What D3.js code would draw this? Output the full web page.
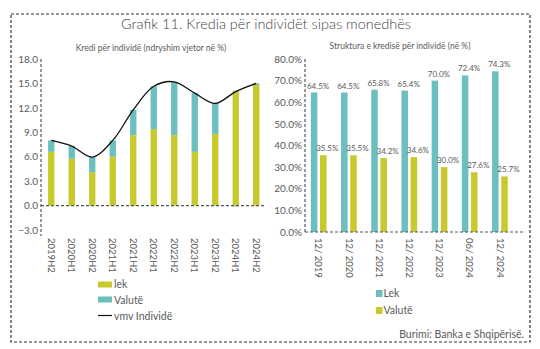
<!DOCTYPE html>
<html>
<head>
<meta charset="utf-8">
<script src="https://cdn.jsdelivr.net/npm/d3@7"></script>
<style>
  body { margin: 0; background: #fff; }
  svg text { font-family: Lato, "Open Sans", sans-serif; fill: #5a5a5a; }
</style>
</head>
<body>
<div id="vis-container"></div>
<script>
// Left panel: half-yearly change in loans to individuals, by currency
const periods = ["2019H2", "2020H1", "2020H2", "2021H1", "2021H2", "2022H1",
                 "2022H2", "2023H1", "2023H2", "2024H1", "2024H2"];
const lekChange = [6.6, 5.75, 4.1, 6.0, 8.65, 9.4, 8.65, 6.6, 8.8, 14.1, 14.8];
const valuteChange = [1.4, 1.55, 1.85, 2.0, 3.1, 5.25, 6.55, 7.2, 3.75, -0.1, 0.2];
const totalChange = [8.0, 7.3, 5.95, 8.0, 11.75, 14.65, 15.2, 13.8, 12.55, 14.0, 15.0];
const leftTicks = [-3, 0, 3, 6, 9, 12, 15, 18];

// Right panel: currency structure of the loan stock
const dates = ["12/2019", "12/2020", "12/2021", "12/2022", "12/2023", "06/2024", "12/2024"];
const lekShare = [64.5, 64.5, 65.8, 65.4, 70.0, 72.4, 74.3];
const valuteShare = [35.5, 35.5, 34.2, 34.6, 30.0, 27.6, 25.7];
const rightTicks = [0, 10, 20, 30, 40, 50, 60, 70, 80];

const yellow = "#c8c92c", teal = "#6cbfbf", grey = "#555";

const svg = d3.select("#vis-container")
  .append("svg")
    .attr("width", 540)
    .attr("height", 349);

// dashed frame
svg.append("rect")
  .attr("x", 11).attr("y", 14)
  .attr("width", 519).attr("height", 328)
  .attr("fill", "none")
  .attr("stroke", "#333")
  .attr("stroke-width", 1.2)
  .attr("stroke-dasharray", "3,2");

svg.append("text")
  .attr("x", 266).attr("y", 29)
  .attr("text-anchor", "middle")
  .style("font-size", "14.5px")
  .style("font-weight", 300)
  .style("fill", "#444")
  .text("Grafik 11. Kredia për individët sipas monedhës");

// ---------- left chart ----------
const x = d3.scaleBand()
  .domain(periods)
  .range([41, 266.5]);

const y = d3.scaleLinear()
  .domain([-3, 18])
  .range([230, 59]);

svg.append("text")
  .attr("x", 151).attr("y", 51)
  .attr("text-anchor", "middle")
  .style("font-size", "8.5px")
  .text("Kredi për individë (ndryshim vjetor në %)");

const barW = x.bandwidth() * 0.31;
const cx = d => x(d) + x.bandwidth() / 2;

const left = svg.append("g");

left.selectAll(".lek")
  .data(periods)
  .join("rect")
    .attr("x", (d, i) => cx(d) - barW / 2)
    .attr("y", (d, i) => y(lekChange[i]))
    .attr("width", barW)
    .attr("height", (d, i) => y(0) - y(lekChange[i]))
    .attr("fill", yellow);

left.selectAll(".val")
  .data(periods)
  .join("rect")
    .attr("x", d => cx(d) - barW / 2)
    .attr("y", (d, i) => valuteChange[i] >= 0 ? y(lekChange[i] + valuteChange[i]) : y(0))
    .attr("width", barW)
    .attr("height", (d, i) => Math.abs(y(0) - y(valuteChange[i])))
    .attr("fill", teal);

left.append("path")
  .datum(totalChange)
  .attr("fill", "none")
  .attr("stroke", "#111")
  .attr("stroke-width", 1.3)
  .attr("d", d3.line()
    .x((d, i) => cx(periods[i]))
    .y(d => y(d))
    .curve(d3.curveCatmullRom));

// zero line
left.append("line")
  .attr("x1", 41).attr("x2", 266)
  .attr("y1", y(0)).attr("y2", y(0))
  .attr("stroke", grey).attr("stroke-width", 1.2)
  .attr("stroke-dasharray", "3,2");

const yAxisL = left.append("g")
  .attr("transform", "translate(41,0)")
  .call(d3.axisLeft(y).tickValues(leftTicks).tickSize(0).tickPadding(3)
    .tickFormat(d3.format(".1f")));
yAxisL.select(".domain")
  .attr("d", `M0,${y(18)}V${y(-3) + 6}`)
  .attr("stroke", grey).attr("stroke-width", 1.2)
  .attr("stroke-dasharray", "3,2");
yAxisL.selectAll("text").style("font-size", "10px").style("font-family", null);

left.selectAll(".xl")
  .data(periods)
  .join("text")
    .attr("transform", d => `translate(${cx(d)},238) rotate(90)`)
    .attr("dy", "0.35em")
    .style("font-size", "9.5px")
    .text(d => d);

// legend
const legL = left.append("g").attr("transform", "translate(98,0)");
legL.append("rect").attr("x", 0).attr("y", 281.5).attr("width", 14).attr("height", 6).attr("fill", yellow);
legL.append("rect").attr("x", 0).attr("y", 296.5).attr("width", 14).attr("height", 6).attr("fill", teal);
legL.append("line").attr("x1", 0).attr("x2", 14).attr("y1", 315.5).attr("y2", 315.5)
  .attr("stroke", "#111").attr("stroke-width", 1.2);
legL.selectAll(".lt")
  .data(["lek", "Valutë", "vmv Individë"])
  .join("text")
    .attr("x", 16)
    .attr("y", (d, i) => 284.5 + i * 16)
    .attr("dy", "0.35em")
    .style("font-size", "10.5px")
    .text(d => d);

// ---------- right chart ----------
const x0 = d3.scaleBand()
  .domain(dates)
  .range([303.6, 515]);

const x1 = d3.scaleBand()
  .domain(["Lek", "Valutë"])
  .range([x0.bandwidth() / 2 - 7.85, x0.bandwidth() / 2 + 7.85])
  .paddingInner(0.29);

const y2 = d3.scaleLinear()
  .domain([0, 80])
  .range([232, 59]);

svg.append("text")
  .attr("x", 400).attr("y", 49)
  .attr("text-anchor", "middle")
  .style("font-size", "8.5px")
  .text("Struktura e kredisë për individë (në %)");

const right = svg.append("g");

const series = [
  { key: "Lek", values: lekShare, color: teal },
  { key: "Valutë", values: valuteShare, color: yellow }
];

series.forEach(s => {
  right.selectAll(null)
    .data(dates)
    .join("rect")
      .attr("x", d => x0(d) + x1(s.key))
      .attr("y", (d, i) => y2(s.values[i]))
      .attr("width", x1.bandwidth())
      .attr("height", (d, i) => y2(0) - y2(s.values[i]))
      .attr("fill", s.color);

  right.selectAll(null)
    .data(dates)
    .join("text")
      .attr("x", d => x0(d) + x1(s.key) + x1.bandwidth() / 2 + 4)
      .attr("y", (d, i) => y2(s.values[i]) - 4)
      .attr("text-anchor", "middle")
      .style("font-size", "8px")
      .text((d, i) => s.values[i].toFixed(1) + "%");
});

right.append("line")
  .attr("x1", 305).attr("x2", 524)
  .attr("y1", y2(0)).attr("y2", y2(0))
  .attr("stroke", grey).attr("stroke-width", 1.2)
  .attr("stroke-dasharray", "3,2");

const yAxisR = right.append("g")
  .attr("transform", "translate(305,0)")
  .call(d3.axisLeft(y2).tickValues(rightTicks).tickSize(0).tickPadding(3)
    .tickFormat(d => d.toFixed(1) + "%"));
yAxisR.select(".domain")
  .attr("d", `M0,${y2(80)}V${y2(0)}`)
  .attr("stroke", grey).attr("stroke-width", 1.2)
  .attr("stroke-dasharray", "3,2");
yAxisR.selectAll("text").style("font-size", "10px").style("font-family", null);

right.selectAll(".xr")
  .data(dates)
  .join("text")
    .attr("transform", d => `translate(${x0(d) + x0.bandwidth() / 2},238) rotate(90)`)
    .attr("dy", "0.35em")
    .style("font-size", "9.5px")
    .text(d => d.replace("/", "/ "));

const legR = right.append("g").attr("transform", "translate(376,0)");
series.forEach((s, i) => {
  legR.append("rect")
    .attr("x", 0).attr("y", 290 + i * 17)
    .attr("width", 6.5).attr("height", 7)
    .attr("fill", s.color);
  legR.append("text")
    .attr("x", 7.5).attr("y", 293.5 + i * 17)
    .attr("dy", "0.35em")
    .style("font-size", "10.5px")
    .text(s.key);
});

svg.append("text")
  .attr("x", 524).attr("y", 338)
  .attr("text-anchor", "end")
  .style("font-size", "10.5px")
  .text("Burimi: Banka e Shqipërisë.");
</script>
</body>
</html>
